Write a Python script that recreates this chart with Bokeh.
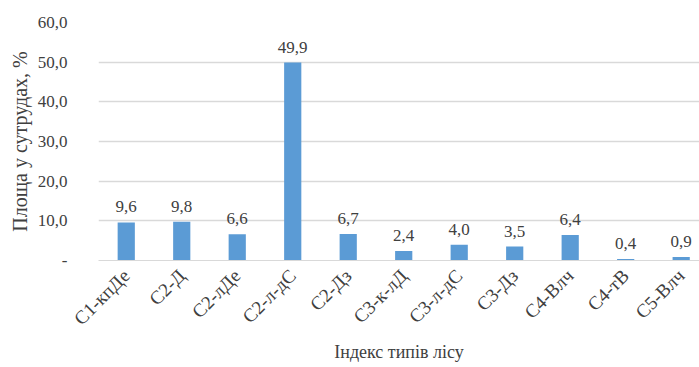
from math import pi

from bokeh.core.properties import value
from bokeh.embed import file_html
from bokeh.models import ColumnDataSource, FixedTicker, LabelSet, Range1d
from bokeh.plotting import figure
from bokeh.resources import INLINE

# Forest type index and share of area in the suturoks, %
categories = ["С1-кпДе", "С2-Д", "С2-лДе", "С2-л-дС", "С2-Дз", "С3-к-лД",
              "С3-л-дС", "С3-Дз", "С4-Влч", "С4-тВ", "С5-Влч"]
values = [9.6, 9.8, 6.6, 49.9, 6.7, 2.4, 4.0, 3.5, 6.4, 0.4, 0.9]
y_ticks = [0, 10, 20, 30, 40, 50, 60]
y_tick_labels = ["-", "10,0", "20,0", "30,0", "40,0", "50,0", "60,0"]

FONT = "Liberation Serif"
TEXT = "#404040"
BAR = "#5B9BD5"
GRID = "#D9D9D9"

xs = list(range(len(categories)))
source = ColumnDataSource(dict(
    x=xs,
    top=values,
    label=[f"{v:.1f}".replace(".", ",") for v in values],
))

p = figure(width=699, height=367, output_backend="svg", toolbar_location=None,
           x_range=Range1d(-0.5, 10.33), y_range=Range1d(0, 60),
           min_border_left=98, min_border_right=0, min_border_top=22,
           min_border_bottom=107)
p.outline_line_color = None
p.background_fill_color = "white"
p.border_fill_color = "white"

p.vbar(x="x", top="top", width=0.31, source=source, fill_color=BAR,
       line_color=None)

p.add_layout(LabelSet(x="x", y="top", text="label", source=source,
                      text_align="center", y_offset=10,
                      text_font=value(FONT), text_font_size="17px",
                      text_color=TEXT))

# x axis: category names, rotated
p.xaxis.ticker = FixedTicker(ticks=xs)
p.xaxis.major_label_overrides = {i: c for i, c in enumerate(categories)}
p.xaxis.major_label_orientation = pi / 4
p.xaxis.major_tick_line_color = None
p.xaxis.minor_tick_line_color = None
p.xaxis.axis_line_color = GRID
p.xaxis.major_label_text_font = FONT
p.xaxis.major_label_text_font_size = "19px"
p.xaxis.major_label_text_color = TEXT
p.xaxis.major_label_standoff = 6
p.xaxis.axis_label = "Індекс типів лісу"
p.xaxis.axis_label_text_font = FONT
p.xaxis.axis_label_text_font_size = "18px"
p.xaxis.axis_label_text_font_style = "normal"
p.xaxis.axis_label_text_color = TEXT
p.xaxis.axis_label_standoff = 2

# y axis
p.yaxis.ticker = FixedTicker(ticks=y_ticks)
p.yaxis.major_label_overrides = dict(zip(y_ticks, y_tick_labels))
p.yaxis.axis_line_color = None
p.yaxis.major_tick_line_color = None
p.yaxis.minor_tick_line_color = None
p.yaxis.major_label_text_font = FONT
p.yaxis.major_label_text_font_size = "17px"
p.yaxis.major_label_text_color = TEXT
p.yaxis.major_label_standoff = 25
p.yaxis.axis_label = "Площа у сутрудах, %"
p.yaxis.axis_label_text_font = FONT
p.yaxis.axis_label_text_font_size = "20px"
p.yaxis.axis_label_text_font_style = "normal"
p.yaxis.axis_label_text_color = TEXT
p.yaxis.axis_label_standoff = 4

p.xgrid.grid_line_color = None
p.ygrid.grid_line_color = GRID
p.ygrid.grid_line_width = 1.5

open("out.html", "w").write(file_html(p, INLINE))
